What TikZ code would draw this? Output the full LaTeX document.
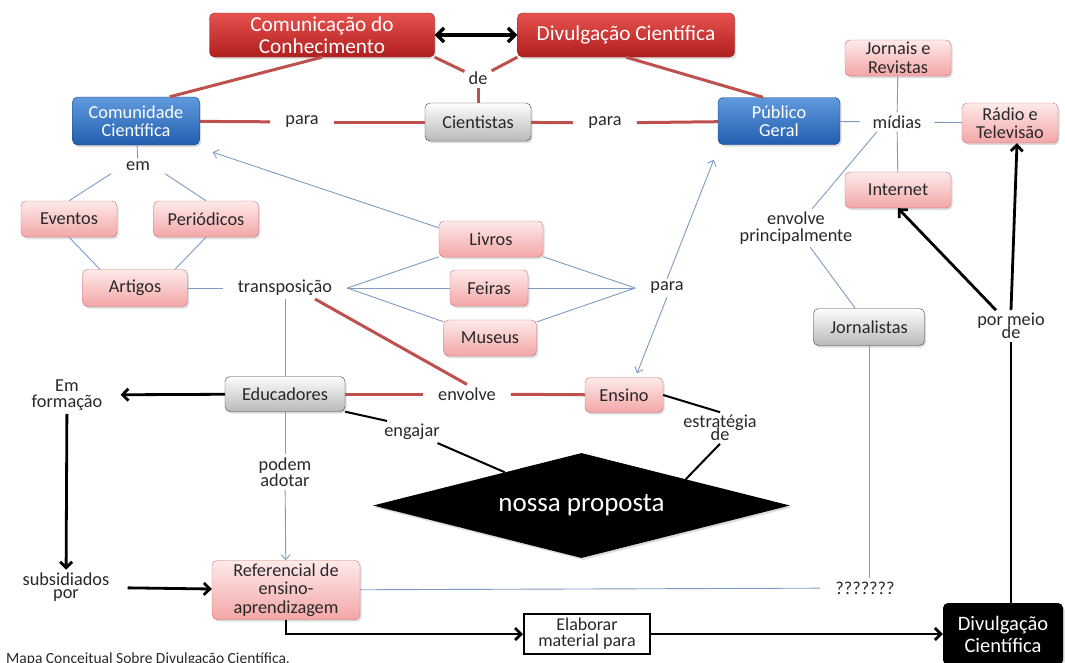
\documentclass[tikz,border=0pt]{standalone}
\usepackage{fontspec}
\setmainfont{Carlito}
\usetikzlibrary{arrows.meta,shadows,shapes.geometric,calc}

\definecolor{redtop}{RGB}{230,82,78}
\definecolor{redbot}{RGB}{176,30,30}
\definecolor{redline}{RGB}{190,80,78}
\definecolor{bluetop}{RGB}{96,154,222}
\definecolor{bluebot}{RGB}{34,94,174}
\definecolor{blueline}{RGB}{125,155,195}
\definecolor{pinktop}{RGB}{254,234,234}
\definecolor{pinkbot}{RGB}{243,166,166}
\definecolor{pinkedge}{RGB}{205,112,112}
\definecolor{graytop}{RGB}{253,253,253}
\definecolor{graybot}{RGB}{185,185,185}
\definecolor{ink}{RGB}{40,40,40}

\tikzset{
  base/.style={rounded corners=5pt, align=center, inner sep=0pt,
    font=\fontsize{18.3}{18.5}\selectfont,
    drop shadow={opacity=0.28, shadow xshift=1.5pt, shadow yshift=-2pt}},
  redbox/.style={base, top color=redtop, bottom color=redbot,
    draw=redbot!80!black, text=white, font=\fontsize{21.3}{22}\selectfont},
  bluebox/.style={base, top color=bluetop, bottom color=bluebot,
    draw=bluebot!70!black, text=white},
  pinkbox/.style={base, top color=pinktop, bottom color=pinkbot,
    draw=pinkedge, text=ink},
  graybox/.style={base, top color=graytop, bottom color=graybot,
    draw=black!75, text=ink},
  lbl/.style={align=center, inner xsep=15pt, inner ysep=3pt,
    font=\fontsize{18.3}{16.5}\selectfont, text=ink},
  redl/.style={draw=redline, line width=3pt},
  bl/.style={draw=blueline, line width=0.9pt},
  blarr/.style={bl, -{Straight Barb[length=5pt,width=9pt]}},
  blk/.style={draw=black, line width=2.8pt},
  blkarr/.style={blk, -{Straight Barb[length=6pt,width=12pt]}},
  blkthin/.style={draw=black, line width=2pt},
}

\begin{document}
\begin{tikzpicture}[x=1pt,y=-1pt]
\useasboundingbox (0,0) rectangle (1065,662);

% ---- concept boxes ----
\node[redbox, minimum width=225pt, minimum height=44pt] (com) at (322,35) {Comunicação do\\Conhecimento};
\node[redbox, minimum width=217pt, minimum height=44pt] (div1) at (626,35) {Divulgação Científica};
\node[bluebox, minimum width=127pt, minimum height=48pt] (comu) at (136,121) {Comunidade\\Científica};
\node[graybox, minimum width=106pt, minimum height=38pt] (cient) at (478,122) {Cientistas};
\node[bluebox, minimum width=122pt, minimum height=47pt] (pub) at (779,121) {Público\\Geral};
\node[pinkbox, minimum width=106pt, minimum height=36pt] (jorn) at (898,58) {Jornais e\\Revistas};
\node[pinkbox, minimum width=96pt, minimum height=40pt] (radio) at (1010,123) {Rádio e\\Televisão};
\node[pinkbox, minimum width=106pt, minimum height=36pt] (internet) at (898,190) {Internet};
\node[pinkbox, minimum width=96pt, minimum height=36pt] (eventos) at (69,219) {Eventos};
\node[pinkbox, minimum width=105pt, minimum height=36pt] (periodicos) at (206,219) {Periódicos};
\node[pinkbox, minimum width=105pt, minimum height=37pt] (artigos) at (135,288) {Artigos};
\node[pinkbox, minimum width=104pt, minimum height=36pt] (livros) at (491,239) {Livros};
\node[pinkbox, minimum width=78pt, minimum height=36pt] (feiras) at (489,288) {Feiras};
\node[pinkbox, minimum width=93pt, minimum height=36pt] (museus) at (490,338) {Museus};
\node[graybox, minimum width=111pt, minimum height=37pt] (jornalistas) at (869,327) {Jornalistas};
\node[graybox, minimum width=120pt, minimum height=35pt] (educ) at (285,394) {Educadores};
\node[pinkbox, minimum width=78pt, minimum height=35pt] (ensino) at (624,395) {Ensino};
\node[pinkbox, minimum width=148pt, minimum height=59pt, font=\fontsize{18.3}{18.7}\selectfont] (ref) at (286,590) {Referencial de\\ensino-\\aprendizagem};
\node[draw=black, line width=2pt, fill=white, align=center, inner sep=0pt,
      minimum width=126pt, minimum height=40pt, font=\fontsize{18}{16}\selectfont, text=ink] (elab) at (587,634) {Elaborar\\material para};
\node[base, fill=black, text=white, minimum width=120pt, minimum height=62pt,
      font=\fontsize{20.5}{22}\selectfont] (div2) at (1003,634) {Divulgação\\Científica};
\node[diamond, aspect=4, fill=black, text=white, inner sep=0pt,
      minimum width=417pt, minimum height=105pt, font=\fontsize{27}{30}\selectfont,
      drop shadow={opacity=0.28, shadow xshift=1.5pt, shadow yshift=-2pt}] (nossa) at (581.5,505.5) {nossa proposta};

% ---- linking phrases ----
\node[lbl, inner xsep=4pt] (de) at (478,78) {de};
\node[lbl] (para1) at (302,122) {para};
\node[lbl] (para2) at (605,123) {para};
\node[lbl, inner xsep=13pt] (midias) at (897,122) {mídias};
\node[lbl] (em) at (138,166) {em};
\node[lbl] (transp) at (285,288) {transposição};
\node[lbl] (para3) at (667,288) {para};
\node[lbl] (envprinc) at (796,228) {envolve\\principalmente};
\node[lbl] (pormeio) at (1011,326) {por meio\\[-4pt]de};
\node[lbl, inner xsep=18pt] (emform) at (67,395) {Em\\formação};
\node[lbl] (envolve) at (467,394) {envolve};
\node[lbl] (engajar) at (412,432) {engajar};
\node[lbl] (estrat) at (720,428) {estratégia\\[-4pt]de};
\node[lbl] (podem) at (285,472) {podem\\adotar};
\node[lbl, inner xsep=18pt] (subs) at (66,587) {subsidiados\\[-4pt]por};
\node[lbl] (qqq) at (865,588) {???????};

\node[anchor=base west, inner sep=0pt, font=\fontsize{15.5}{16}\selectfont, text=ink] (cap) at (6,663) {Mapa Conceitual Sobre Divulgação Científica.};

% ---- red links ----
\draw[redl] (com.south) -- ([xshift=-30pt]comu.north east);
\draw[redl] (com.south east) -- (de);
\draw[redl] (div1.south west) -- (de);
\draw[redl] (de) -- (cient);
\draw[redl] (div1.south) -- ([xshift=-16pt]pub.north);
\draw[redl] (comu) -- (para1);
\draw[redl] (para1) -- (cient);
\draw[redl] (cient) -- (para2);
\draw[redl] (para2) -- (pub);
\draw[redl] ([xshift=30pt]transp.south) -- (envolve.north);
\draw[redl] (educ) -- (envolve);
\draw[redl] (envolve) -- (ensino);

% ---- blue links ----
\draw[bl] (pub) -- (midias);
\draw[bl] (midias) -- (jorn);
\draw[bl] (midias) -- (radio);
\draw[bl] (midias) -- (internet);
\draw[bl] ([xshift=-20pt]midias.south) -- (envprinc);
\draw[bl] (envprinc) -- (jornalistas);
\draw[bl] (jornalistas) -- (jornalistas |- qqq.north);
\draw[bl] (ref) -- (qqq);
\draw[bl] (comu) -- (em);
\draw[bl] (em.south west) -- (eventos.north);
\draw[bl] (em.south east) -- (periodicos.north);
\draw[bl] (eventos.south) -- ([xshift=-35pt]artigos.north);
\draw[bl] (periodicos.south) -- ([xshift=40pt]artigos.north);
\draw[bl] (artigos) -- (transp);
\draw[bl] (transp.east) -- (livros);
\draw[bl] (transp.east) -- (feiras);
\draw[bl] (transp.east) -- (museus);
\draw[bl] (livros) -- (para3.west);
\draw[bl] (feiras) -- (para3.west);
\draw[bl] (museus) -- (para3.west);
\draw[blarr] ([yshift=-7pt]livros.north west) -- ([xshift=13pt,yshift=-7pt]comu.south east);
\draw[blarr] (para3.north) -- ([xshift=-4pt,yshift=-15pt]pub.south west);
\draw[blarr] (para3.south) -- ([xshift=13pt,yshift=4pt]ensino.north);
\draw[bl] (transp) -- (educ);
\draw[bl] (educ) -- (podem);
\draw[blarr] (podem) -- (ref);

% ---- black links ----
\draw[blk, line width=3.3pt, {Straight Barb[length=7pt,width=14pt]}-{Straight Barb[length=7pt,width=14pt]}] (com.east) -- (div1.west);
\draw[blkarr] (educ) -- (emform);
\draw[blkarr] (emform) -- (subs);
\draw[blkarr] (subs) -- (ref);
\draw[blkarr] (ref.south) |- (elab.west);
\draw[blkarr] (elab) -- (div2);
\draw[blk] (pormeio.south |- div2.north) -- (pormeio.south);
\draw[blkarr] (pormeio.north) -- ([xshift=7pt]radio.south);
\draw[blkarr] ([xshift=-15pt]pormeio.north) -- (internet.south);
\draw[blkthin] (educ.south east) -- ([xshift=-25pt]engajar.north);
\draw[blkthin] (engajar) -- (nossa);
\draw[blkthin] (ensino.east) -- (estrat.north);
\draw[blkthin] (estrat.south) -- (nossa.north east);
\end{tikzpicture}
\end{document}
